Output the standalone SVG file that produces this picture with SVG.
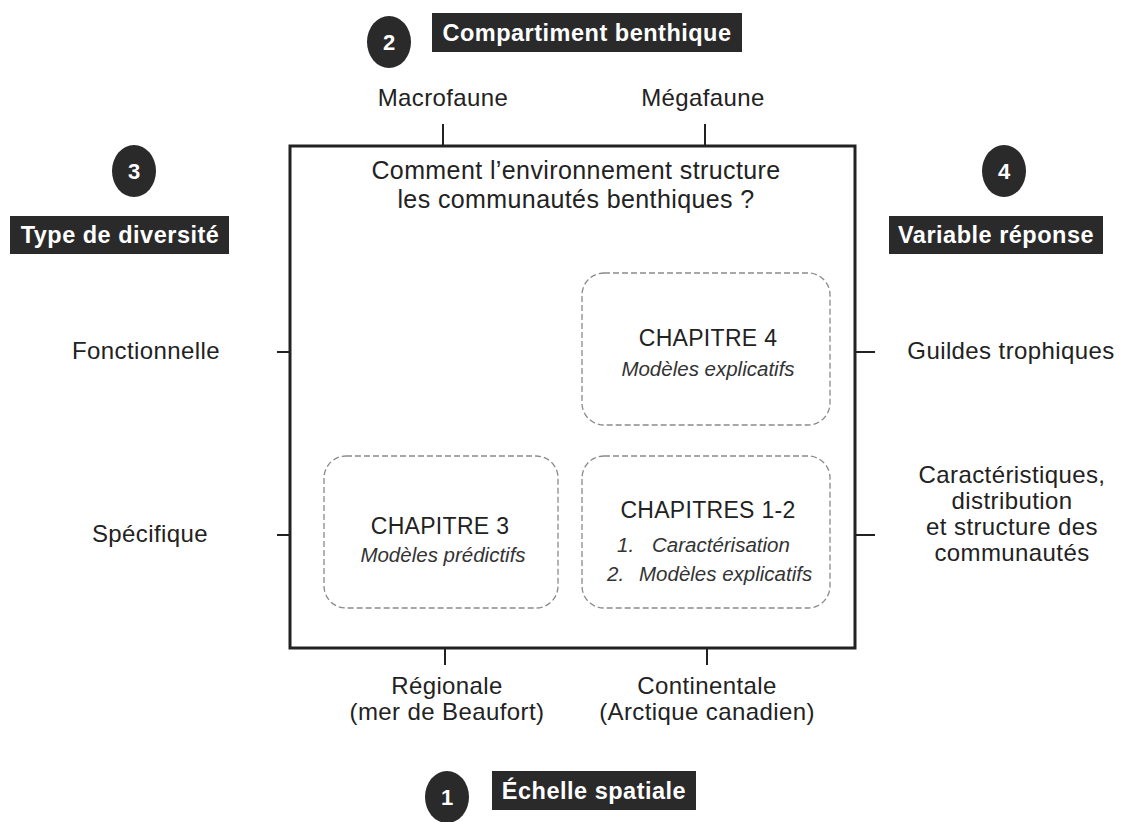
<svg xmlns="http://www.w3.org/2000/svg" width="1127" height="822" viewBox="0 0 1127 822">
<style>
.t{font-family:"Liberation Sans",Arial,sans-serif;font-size:24px;letter-spacing:0.4px;fill:#222;text-anchor:middle}
.q{font-size:25px}
.ch{font-size:23px;letter-spacing:0.3px}
.i{font-family:"Liberation Sans",Arial,sans-serif;font-style:italic;font-size:20.5px;fill:#333;text-anchor:middle}
.s{text-anchor:start}
.lab{font-family:"Liberation Sans",Arial,sans-serif;font-size:23.5px;letter-spacing:0.5px;font-weight:bold;fill:#fff;text-anchor:middle}
.num{font-family:"Liberation Sans",Arial,sans-serif;font-size:22px;font-weight:bold;fill:#fff;text-anchor:middle}
.dk{fill:#2a2a2a}
.ln{stroke:#222;stroke-width:2;fill:none}
.box{stroke:#222;stroke-width:3;fill:none}
.dash{stroke:#8a8a8a;stroke-width:1.3;stroke-dasharray:6,3;fill:#fff}
</style>
<rect width="1127" height="822" fill="#fff"/>
<g id="connectors">
<line class="ln" x1="443" y1="124" x2="443" y2="146"/>
<line class="ln" x1="705" y1="124" x2="705" y2="146"/>
<line class="ln" x1="445" y1="648" x2="445" y2="665"/>
<line class="ln" x1="707" y1="648" x2="707" y2="665"/>
<line class="ln" x1="277" y1="352" x2="290" y2="352"/>
<line class="ln" x1="277" y1="535" x2="290" y2="535"/>
<line class="ln" x1="855" y1="352" x2="875" y2="352"/>
<line class="ln" x1="855" y1="535" x2="875" y2="535"/>
</g>
<g id="mainbox">
<rect class="box" x="290" y="146" width="565" height="502"/>
<text class="t q" x="576" y="179">Comment l’environnement structure</text>
<text class="t q" x="576" y="208">les communautés benthiques ?</text>
</g>
<g id="axis2">
<ellipse class="dk" cx="389" cy="42" rx="22" ry="26"/>
<text class="num" x="389" y="50">2</text>
<rect class="dk" x="432" y="13" width="310" height="39"/>
<text class="lab" x="587" y="41">Compartiment benthique</text>
<text class="t" x="443" y="106">Macrofaune</text>
<text class="t" x="703" y="106">Mégafaune</text>
</g>
<g id="axis3">
<ellipse class="dk" cx="134" cy="171" rx="22" ry="26"/>
<text class="num" x="134" y="179">3</text>
<rect class="dk" x="10" y="216" width="219" height="38"/>
<text class="lab" x="120" y="243">Type de diversité</text>
<text class="t" x="146" y="359">Fonctionnelle</text>
<text class="t" x="150" y="542">Spécifique</text>
</g>
<g id="axis4">
<ellipse class="dk" cx="1004" cy="171" rx="22" ry="26"/>
<text class="num" x="1004" y="179">4</text>
<rect class="dk" x="889" y="216" width="214" height="38"/>
<text class="lab" x="996" y="243">Variable réponse</text>
<text class="t" x="1011" y="359">Guildes trophiques</text>
<text class="t" x="1012" y="483">Caractéristiques,</text>
<text class="t" x="1012" y="509">distribution</text>
<text class="t" x="1012" y="535">et structure des</text>
<text class="t" x="1012" y="561">communautés</text>
</g>
<g id="axis1">
<ellipse class="dk" cx="447" cy="797" rx="22" ry="26"/>
<text class="num" x="447" y="805">1</text>
<rect class="dk" x="492" y="771" width="204" height="39"/>
<text class="lab" x="594" y="799">Échelle spatiale</text>
<text class="t" x="447" y="694">Régionale</text>
<text class="t" x="447" y="720">(mer de Beaufort)</text>
<text class="t" x="707" y="694">Continentale</text>
<text class="t" x="707" y="720">(Arctique canadien)</text>
</g>
<g id="chap4">
<rect class="dash" x="582" y="273" width="248" height="152" rx="22"/>
<text class="t ch" x="708" y="346">CHAPITRE 4</text>
<text class="i" x="708" y="376">Modèles explicatifs</text>
</g>
<g id="chap3">
<rect class="dash" x="324" y="456" width="234" height="152" rx="22"/>
<text class="t ch" x="440" y="534">CHAPITRE 3</text>
<text class="i" x="443" y="562">Modèles prédictifs</text>
</g>
<g id="chap12">
<rect class="dash" x="582" y="456" width="248" height="152" rx="22"/>
<text class="t ch" x="708" y="518">CHAPITRES 1-2</text>
<text class="i s" x="617" y="552">1.</text>
<text class="i s" x="652" y="552">Caractérisation</text>
<text class="i s" x="607" y="581">2.</text>
<text class="i s" x="639" y="581">Modèles explicatifs</text>
</g>
</svg>
